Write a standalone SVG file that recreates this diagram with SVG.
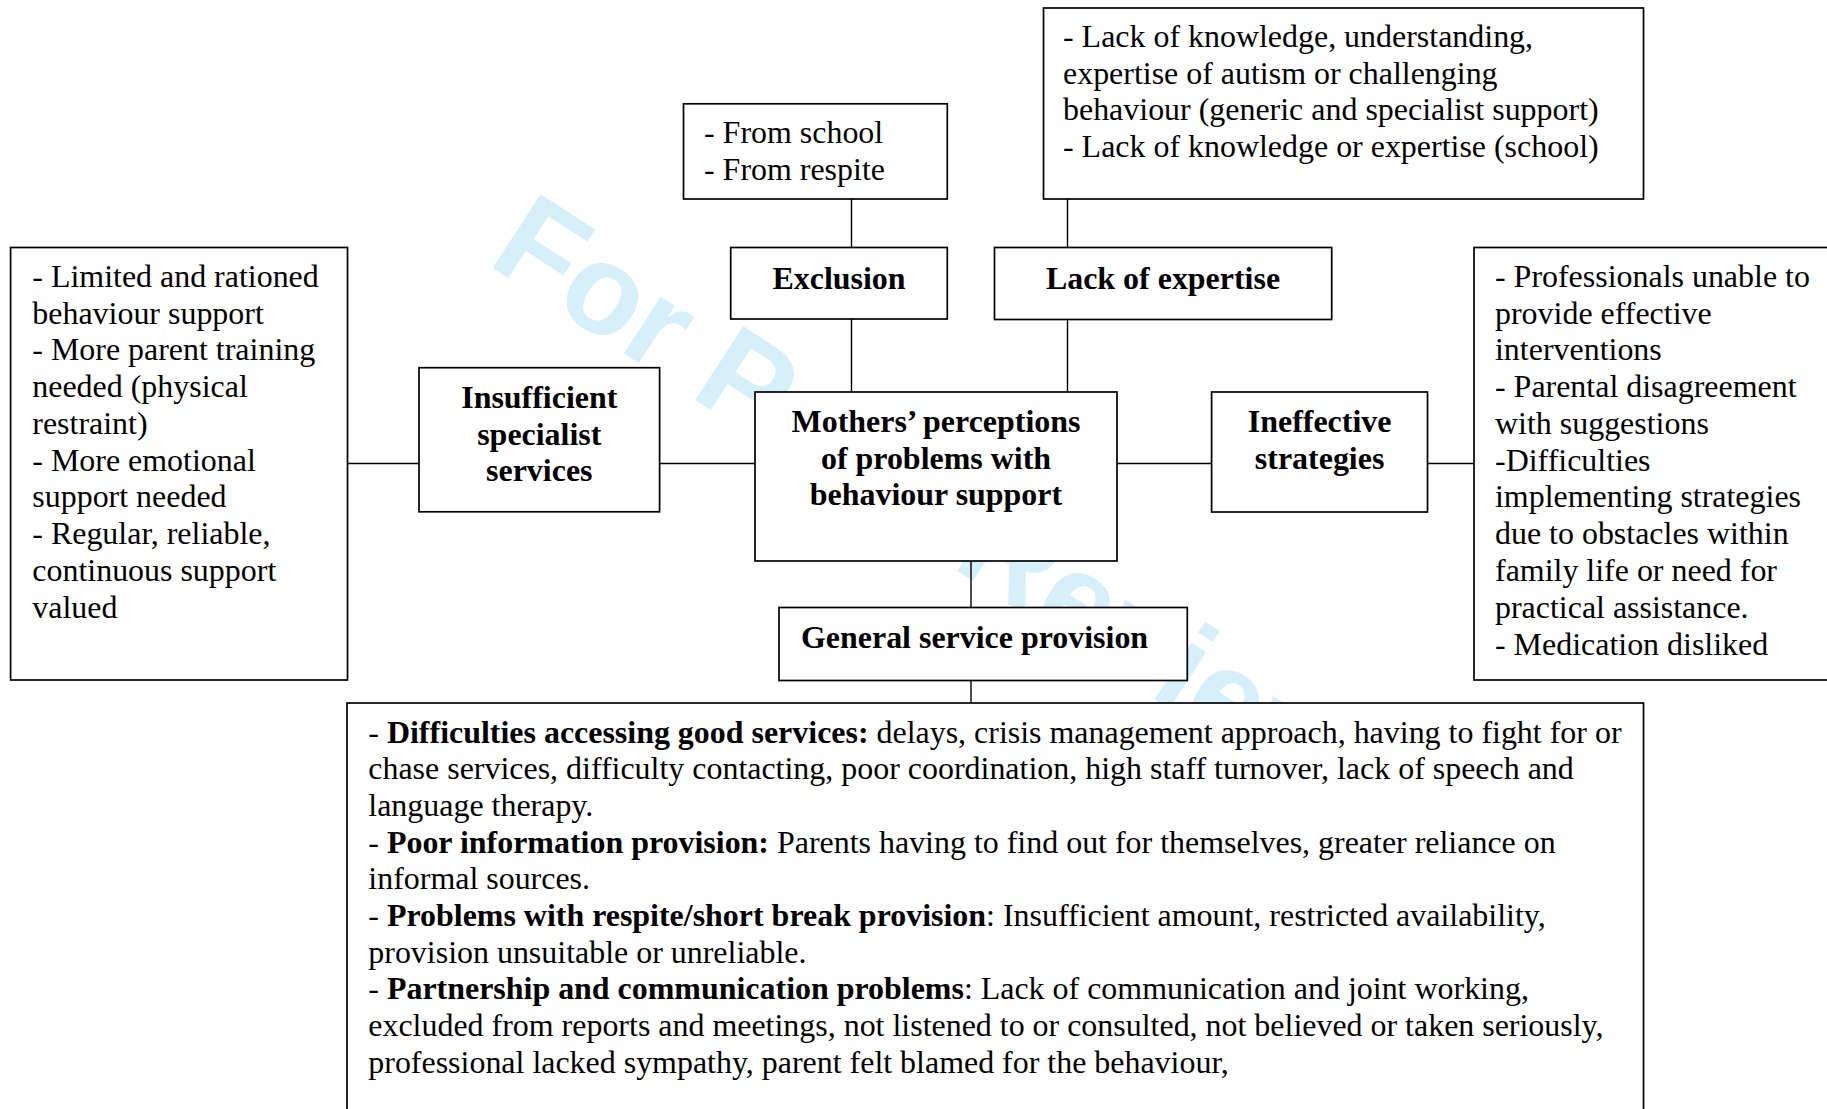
<svg xmlns="http://www.w3.org/2000/svg" width="1827" height="1109" viewBox="0 0 1827 1109">
<style>
.box{fill:#fff;stroke:#000;stroke-width:1.7}
.ln{stroke:#000;stroke-width:1.4;fill:none}
.t{font-family:"Liberation Serif","Times New Roman",serif;font-size:31.95px;fill:#000}
.b{font-weight:bold}
.c{text-anchor:middle}
.wm{font-family:"Liberation Sans",Arial,sans-serif;font-weight:bold;font-size:128px;fill:#d5effb}
</style>
<rect x="0" y="0" width="1827" height="1109" fill="#fff"/>
<text class="wm" transform="translate(485.5 263.2) rotate(33.1)">For Peer Review</text>
<g id="connectors">
<path class="ln" d="M851.5 199V247.5M851.5 319V392M1067.5 199V247.5M1067.5 319.5V392M347.5 463.5H419M659.6 463.5H755M1117 463.5H1211.6M1427.5 463.5H1474M971 561V607.5M971 680.5V703"/>
</g>
<g id="n-exclusion-detail">
<rect class="box" x="683.5" y="103.8" width="263.8" height="95.2"/>
<text class="t" x="704" y="142.5">- From school</text>
<text class="t" x="704" y="179.5">- From respite</text>
</g>
<g id="n-expertise-detail">
<rect class="box" x="1043.5" y="8" width="600" height="191"/>
<text class="t" x="1063" y="47">- Lack of knowledge, understanding,</text>
<text class="t" x="1063" y="83.7">expertise of autism or challenging</text>
<text class="t" x="1063" y="120.4">behaviour (generic and specialist support)</text>
<text class="t" x="1063" y="157.1">- Lack of knowledge or expertise (school)</text>
</g>
<g id="n-exclusion">
<rect class="box" x="730.7" y="247.5" width="216.6" height="71.5"/>
<text class="t b c" x="839" y="288.5">Exclusion</text>
</g>
<g id="n-expertise">
<rect class="box" x="994.5" y="247.5" width="337.2" height="72"/>
<text class="t b c" x="1163" y="288.5">Lack of expertise</text>
</g>
<g id="n-insufficient-detail">
<rect class="box" x="10.6" y="247.5" width="336.9" height="432.5"/>
<text class="t" x="32.3" y="286.8">- Limited and rationed</text>
<text class="t" x="32.3" y="323.6">behaviour support</text>
<text class="t" x="32.3" y="360.3">- More parent training</text>
<text class="t" x="32.3" y="397.1">needed (physical</text>
<text class="t" x="32.3" y="433.9">restraint)</text>
<text class="t" x="32.3" y="470.6">- More emotional</text>
<text class="t" x="32.3" y="507.4">support needed</text>
<text class="t" x="32.3" y="544.2">- Regular, reliable,</text>
<text class="t" x="32.3" y="581">continuous support</text>
<text class="t" x="32.3" y="617.7">valued</text>
</g>
<g id="n-insufficient">
<rect class="box" x="419" y="367.7" width="240.6" height="144.1"/>
<text class="t b c" x="539.3" y="408">Insufficient</text>
<text class="t b c" x="539.3" y="444.7">specialist</text>
<text class="t b c" x="539.3" y="481.4">services</text>
</g>
<g id="n-center">
<rect class="box" x="755" y="392" width="362" height="169"/>
<text class="t b c" x="936" y="432">Mothers’ perceptions</text>
<text class="t b c" x="936" y="468.7">of problems with</text>
<text class="t b c" x="936" y="505.4">behaviour support</text>
</g>
<g id="n-ineffective">
<rect class="box" x="1211.6" y="392" width="215.9" height="120"/>
<text class="t b c" x="1319.6" y="431.5">Ineffective</text>
<text class="t b c" x="1319.6" y="468.5">strategies</text>
</g>
<g id="n-ineffective-detail">
<rect class="box" x="1474" y="247.5" width="360" height="432.5"/>
<text class="t" x="1495" y="286.8">- Professionals unable to</text>
<text class="t" x="1495" y="323.6">provide effective</text>
<text class="t" x="1495" y="360.3">interventions</text>
<text class="t" x="1495" y="397.1">- Parental disagreement</text>
<text class="t" x="1495" y="433.9">with suggestions</text>
<text class="t" x="1495" y="470.6">-Difficulties</text>
<text class="t" x="1495" y="507.4">implementing strategies</text>
<text class="t" x="1495" y="544.2">due to obstacles within</text>
<text class="t" x="1495" y="581">family life or need for</text>
<text class="t" x="1495" y="617.7">practical assistance.</text>
<text class="t" x="1495" y="654.5">- Medication disliked</text>
</g>
<g id="n-general">
<rect class="box" x="779" y="607.5" width="408.3" height="73"/>
<text class="t b" x="801" y="648">General service provision</text>
</g>
<g id="n-general-detail">
<rect class="box" x="347" y="703" width="1296.5" height="420"/>
<text class="t" x="368.3" y="742.6">- <tspan class="b">Difficulties accessing good services:</tspan> delays, crisis management approach, having to fight for or</text>
<text class="t" x="368.3" y="779.3">chase services, difficulty contacting, poor coordination, high staff turnover, lack of speech and</text>
<text class="t" x="368.3" y="815.9">language therapy.</text>
<text class="t" x="368.3" y="852.6">- <tspan class="b">Poor information provision:</tspan> Parents having to find out for themselves, greater reliance on</text>
<text class="t" x="368.3" y="889.2">informal sources.</text>
<text class="t" x="368.3" y="925.9">- <tspan class="b">Problems with respite/short break provision</tspan>: Insufficient amount, restricted availability,</text>
<text class="t" x="368.3" y="962.5">provision unsuitable or unreliable.</text>
<text class="t" x="368.3" y="999.2">- <tspan class="b">Partnership and communication problems</tspan>: Lack of communication and joint working,</text>
<text class="t" x="368.3" y="1035.8">excluded from reports and meetings, not listened to or consulted, not believed or taken seriously,</text>
<text class="t" x="368.3" y="1072.5">professional lacked sympathy, parent felt blamed for the behaviour,</text>
</g>
</svg>
